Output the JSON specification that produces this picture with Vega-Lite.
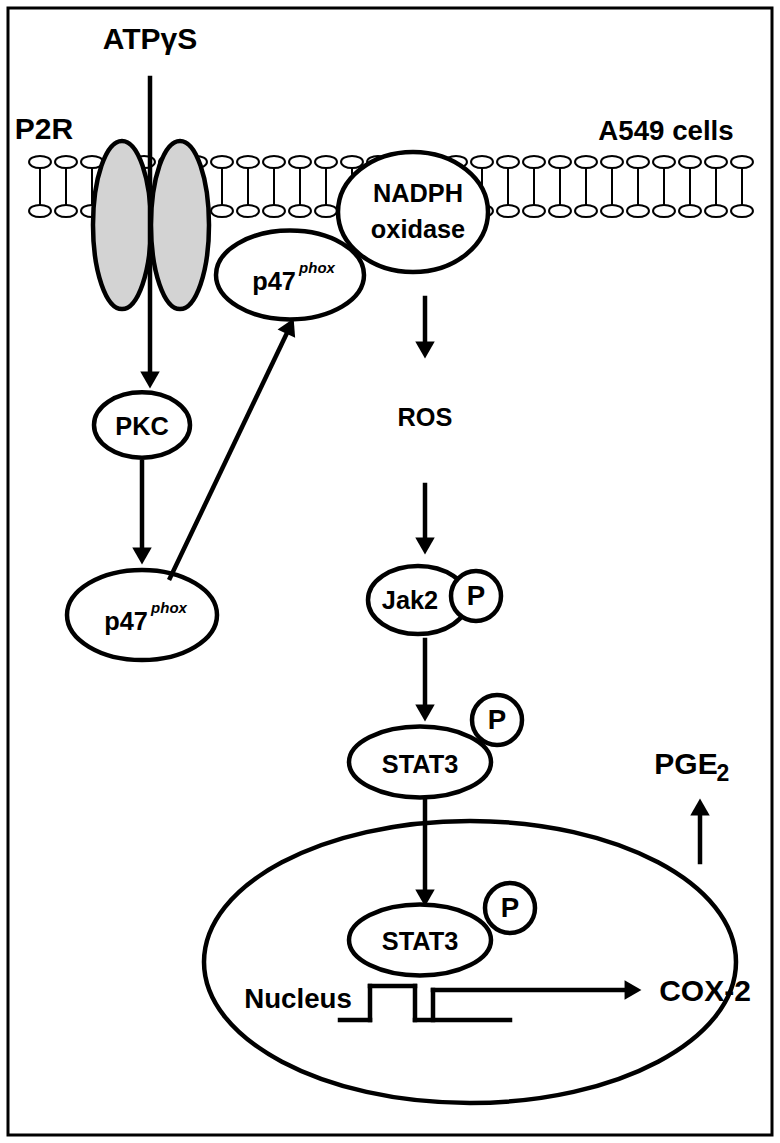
{
  "$schema": "https://vega.github.io/schema/vega-lite/v6.json",
  "description": "ATPgammaS / P2R / NADPH oxidase / STAT3 / COX-2 signalling diagram in A549 cells",
  "autosize": {"type": "fit", "contains": "padding"},
  "width": 780,
  "height": 1143,
  "padding": 0,
  "background": "white",
  "datasets": {
    "lipids": [
      {"x": 40}, {"x": 66}, {"x": 92}, {"x": 118}, {"x": 144}, {"x": 170}, {"x": 196},
      {"x": 222}, {"x": 248}, {"x": 274}, {"x": 300}, {"x": 326}, {"x": 352}, {"x": 378},
      {"x": 404}, {"x": 430}, {"x": 456}, {"x": 482}, {"x": 508}, {"x": 534}, {"x": 560},
      {"x": 586}, {"x": 612}, {"x": 638}, {"x": 664}, {"x": 690}, {"x": 716}, {"x": 742}
    ],
    "bodies": [
      {"name": "Nucleus", "x": 470, "y": 962, "w": 532, "kind": "nuc", "fill": "white"},
      {"name": "P2R left", "x": 122, "y": 225, "w": 58, "kind": "p2r", "fill": "grey"},
      {"name": "P2R right", "x": 180, "y": 225, "w": 58, "kind": "p2r", "fill": "grey"},
      {"name": "NADPH oxidase", "x": 413, "y": 212, "w": 150, "kind": "nadph", "fill": "white"},
      {"name": "p47phox membrane", "x": 290, "y": 275, "w": 148, "kind": "p47", "fill": "white"},
      {"name": "PKC", "x": 142, "y": 425, "w": 96, "kind": "pkc", "fill": "white"},
      {"name": "p47phox", "x": 142, "y": 615, "w": 150, "kind": "p47", "fill": "white"},
      {"name": "Jak2", "x": 418, "y": 600, "w": 100, "kind": "pkc", "fill": "white"},
      {"name": "Jak2 P", "x": 476, "y": 596, "w": 50, "kind": "circ", "fill": "white"},
      {"name": "STAT3", "x": 420, "y": 762, "w": 142, "kind": "stat", "fill": "white"},
      {"name": "STAT3 P", "x": 497, "y": 720, "w": 50, "kind": "circ", "fill": "white"},
      {"name": "STAT3 nuclear", "x": 420, "y": 940, "w": 142, "kind": "stat", "fill": "white"},
      {"name": "STAT3 nuclear P", "x": 510, "y": 908, "w": 50, "kind": "circ", "fill": "white"}
    ],
    "lines": [
      {"x": 150, "y": 78, "x2": 150, "y2": 372},
      {"x": 142, "y": 462, "x2": 142, "y2": 548},
      {"x": 170, "y": 578, "x2": 286, "y2": 335},
      {"x": 425, "y": 298, "x2": 425, "y2": 342},
      {"x": 425, "y": 485, "x2": 425, "y2": 538},
      {"x": 425, "y": 640, "x2": 425, "y2": 705},
      {"x": 425, "y": 800, "x2": 425, "y2": 890},
      {"x": 700, "y": 862, "x2": 700, "y2": 815},
      {"x": 340, "y": 1020, "x2": 370, "y2": 1020},
      {"x": 370, "y": 1020, "x2": 370, "y2": 986},
      {"x": 370, "y": 986, "x2": 415, "y2": 986},
      {"x": 415, "y": 986, "x2": 415, "y2": 1020},
      {"x": 415, "y": 1020, "x2": 510, "y2": 1020},
      {"x": 433, "y": 1020, "x2": 433, "y2": 990},
      {"x": 433, "y": 990, "x2": 625, "y2": 990}
    ],
    "heads": [
      {"x": 150, "y": 380, "angle": 180},
      {"x": 142, "y": 556, "angle": 180},
      {"x": 290, "y": 326, "angle": 25.6},
      {"x": 425, "y": 350, "angle": 180},
      {"x": 425, "y": 546, "angle": 180},
      {"x": 425, "y": 713, "angle": 180},
      {"x": 425, "y": 898, "angle": 180},
      {"x": 700, "y": 807, "angle": 0},
      {"x": 633, "y": 990, "angle": 90}
    ],
    "labels": [
      {"text": "ATPγS", "x": 150, "y": 40, "role": "big"},
      {"text": "P2R", "x": 44, "y": 130, "role": "big"},
      {"text": "A549 cells", "x": 666, "y": 132, "role": "mid"},
      {"text": "NADPH", "x": 418, "y": 194, "role": "body"},
      {"text": "oxidase", "x": 418, "y": 230, "role": "body"},
      {"text": "p47", "x": 274, "y": 282, "role": "body"},
      {"text": "p47", "x": 126, "y": 622, "role": "body"},
      {"text": "PKC", "x": 142, "y": 427, "role": "body"},
      {"text": "ROS", "x": 425, "y": 418, "role": "body"},
      {"text": "Jak2", "x": 410, "y": 601, "role": "body"},
      {"text": "P", "x": 476, "y": 597, "role": "mid"},
      {"text": "STAT3", "x": 420, "y": 765, "role": "body"},
      {"text": "P", "x": 497, "y": 721, "role": "mid"},
      {"text": "STAT3", "x": 420, "y": 942, "role": "body"},
      {"text": "P", "x": 510, "y": 909, "role": "mid"},
      {"text": "Nucleus", "x": 298, "y": 1000, "role": "mid"},
      {"text": "COX-2", "x": 705, "y": 992, "role": "big"},
      {"text": "PGE", "x": 686, "y": 765, "role": "big"},
      {"text": "2", "x": 723, "y": 774, "role": "small"}
    ],
    "italics": [
      {"text": "phox", "x": 317, "y": 268},
      {"text": "phox", "x": 169, "y": 608}
    ]
  },
  "layer": [
    {
      "data": {"values": [{"x": 8, "y": 8, "x2": 772, "y2": 1135}]},
      "mark": {"type": "rect", "fill": "white", "stroke": "black", "strokeWidth": 3},
      "encoding": {
        "x": {"field": "x", "type": "quantitative", "scale": {"domain": [0, 780], "nice": false, "zero": false}, "axis": null},
        "y": {"field": "y", "type": "quantitative", "scale": {"domain": [0, 1143], "nice": false, "zero": false, "reverse": true}, "axis": null},
        "x2": {"field": "x2"},
        "y2": {"field": "y2"}
      }
    },
    {
      "data": {"name": "lipids"},
      "mark": {"type": "rule", "stroke": "black", "strokeWidth": 2},
      "encoding": {
        "x": {"field": "x", "type": "quantitative"},
        "y": {"datum": 168},
        "y2": {"datum": 205}
      }
    },
    {
      "data": {"name": "lipids"},
      "mark": {"type": "point", "shape": "M-1,0A1,0.55 0 1,0 1,0A1,0.55 0 1,0 -1,0Z", "size": 480, "filled": true, "fill": "white", "stroke": "black", "strokeWidth": 2, "opacity": 1},
      "encoding": {
        "x": {"field": "x", "type": "quantitative"},
        "y": {"datum": 162}
      }
    },
    {
      "data": {"name": "lipids"},
      "mark": {"type": "point", "shape": "M-1,0A1,0.55 0 1,0 1,0A1,0.55 0 1,0 -1,0Z", "size": 480, "filled": true, "fill": "white", "stroke": "black", "strokeWidth": 2, "opacity": 1},
      "encoding": {
        "x": {"field": "x", "type": "quantitative"},
        "y": {"datum": 211}
      }
    },
    {
      "data": {"name": "bodies"},
      "mark": {"type": "point", "filled": true, "stroke": "black", "strokeWidth": 4.5, "opacity": 1},
      "encoding": {
        "x": {"field": "x", "type": "quantitative"},
        "y": {"field": "y", "type": "quantitative"},
        "size": {"field": "w", "type": "quantitative", "scale": {"type": "pow", "exponent": 2, "domain": [0, 100], "range": [0, 10000], "zero": true}, "legend": null},
        "shape": {
          "field": "kind", "type": "nominal", "legend": null,
          "scale": {
            "domain": ["nuc", "p2r", "nadph", "p47", "pkc", "stat", "circ"],
            "range": [
              "M-1,0A1,0.53 0 1,0 1,0A1,0.53 0 1,0 -1,0Z",
              "M-1,0A1,2.9 0 1,0 1,0A1,2.9 0 1,0 -1,0Z",
              "M-1,0A1,0.8 0 1,0 1,0A1,0.8 0 1,0 -1,0Z",
              "M-1,0A1,0.6 0 1,0 1,0A1,0.6 0 1,0 -1,0Z",
              "M-1,0A1,0.68 0 1,0 1,0A1,0.68 0 1,0 -1,0Z",
              "M-1,0A1,0.5 0 1,0 1,0A1,0.5 0 1,0 -1,0Z",
              "M-1,0A1,1 0 1,0 1,0A1,1 0 1,0 -1,0Z"
            ]
          }
        },
        "fill": {"field": "fill", "type": "nominal", "legend": null, "scale": {"domain": ["white", "grey"], "range": ["white", "#d3d3d3"]}}
      }
    },
    {
      "data": {"name": "lines"},
      "mark": {"type": "rule", "stroke": "black", "strokeWidth": 4.5, "strokeCap": "square"},
      "encoding": {
        "x": {"field": "x", "type": "quantitative"},
        "y": {"field": "y", "type": "quantitative"},
        "x2": {"field": "x2"},
        "y2": {"field": "y2"}
      }
    },
    {
      "data": {"name": "heads"},
      "mark": {"type": "point", "shape": "triangle-up", "filled": true, "fill": "black", "size": 380, "opacity": 1},
      "encoding": {
        "x": {"field": "x", "type": "quantitative"},
        "y": {"field": "y", "type": "quantitative"},
        "angle": {"field": "angle", "type": "quantitative", "scale": null}
      }
    },
    {
      "data": {"name": "labels"},
      "mark": {"type": "text", "font": "Liberation Sans", "fontWeight": "bold", "align": "center", "baseline": "middle"},
      "encoding": {
        "x": {"field": "x", "type": "quantitative"},
        "y": {"field": "y", "type": "quantitative"},
        "text": {"field": "text"},
        "size": {"field": "role", "type": "nominal", "legend": null, "scale": {"domain": ["big", "mid", "body", "small"], "range": [30, 23, 20, 18]}}
      }
    },
    {
      "data": {"name": "italics"},
      "mark": {"type": "text", "font": "Liberation Sans", "fontWeight": "bold", "fontStyle": "italic", "fontSize": 15, "align": "center", "baseline": "middle"},
      "encoding": {
        "x": {"field": "x", "type": "quantitative"},
        "y": {"field": "y", "type": "quantitative"},
        "text": {"field": "text"}
      }
    }
  ],
  "config": {"view": {"stroke": null}}
}
